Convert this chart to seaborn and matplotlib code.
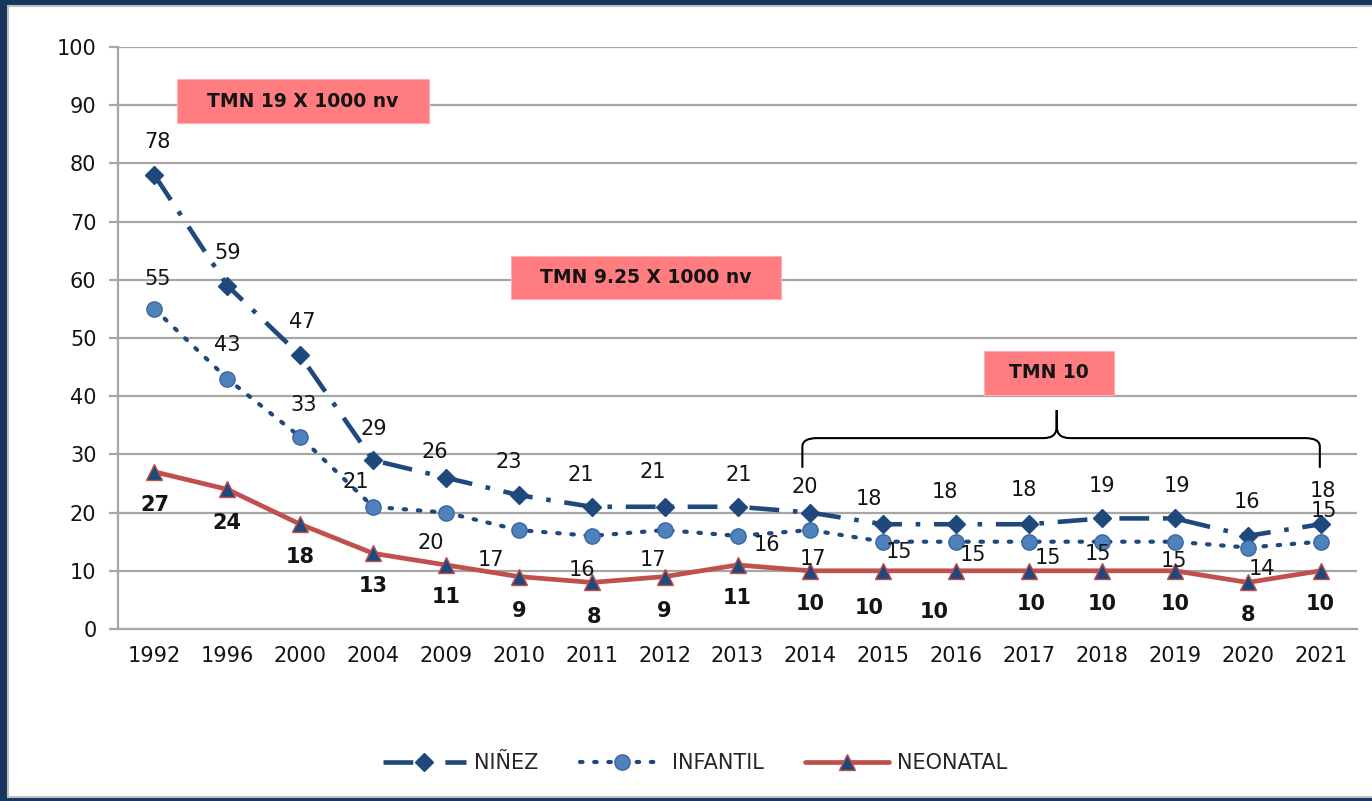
## Tasas de mortalidad: niñez, infantil y neonatal

import numpy as np
import pandas as pd
import seaborn as sns
import matplotlib.pyplot as plt
from matplotlib.path import Path
from matplotlib.patches import PathPatch, Rectangle

# datos
anios = ['1992', '1996', '2000', '2004', '2009', '2010', '2011', '2012', '2013',
         '2014', '2015', '2016', '2017', '2018', '2019', '2020', '2021']
ninez = [78, 59, 47, 29, 26, 23, 21, 21, 21, 20, 18, 18, 18, 19, 19, 16, 18]
infantil = [55, 43, 33, 21, 20, 17, 16, 17, 16, 17, 15, 15, 15, 15, 15, 14, 15]
neonatal = [27, 24, 18, 13, 11, 9, 8, 9, 11, 10, 10, 10, 10, 10, 10, 8, 10]

# desplazamiento de las etiquetas (pixeles)
off_ninez = [(3, 33), (0, 33), (2, 33), (1, 31), (-11, 26), (-10, 33), (-11, 32), (-12, 35),
             (1, 32), (-6, 26), (-14, 25), (-11, 32), (-5, 34), (0, 32), (2, 32), (-1, 34), (2, 33)]
off_infantil = [(3, 30), (0, 34), (3, 32), (-17, 25), (-15, -30), (-28, -30), (-10, -34), (-12, -30),
                (29, -9), (3, -29), (16, -10), (17, -13), (19, -16), (-4, -12), (-1, -19), (14, -21), (3, 31)]
off_neonatal = [(0, -33), (0, -34), (0, -33), (0, -33), (0, -32), (0, -34), (2, -35), (0, -34),
                (0, -33), (0, -33), (-14, -37), (-22, -41), (2, -33), (0, -33), (0, -33), (0, -33), (0, -33)]

azul = '#1F497D'
azul_claro = '#4F81BD'
rojo = '#C0504D'
gris = '#A6A6A6'
rosado = '#FF7C80'

df = pd.DataFrame({'pos': np.arange(len(anios)), 'anio': anios,
                   'ninez': ninez, 'infantil': infantil, 'neonatal': neonatal})

sns.set_style('white')
plt.rcParams['font.family'] = ['DejaVu Sans']

fig = plt.figure(figsize=(13.72, 8.01), dpi=100)
fig.patch.set_facecolor('#17375E')
fig.add_artist(Rectangle((8 / 1372, 4 / 801), 2.0, 791 / 801, transform=fig.transFigure,
                         facecolor='white', edgecolor='#BFBFBF', linewidth=1.5, zorder=-1))
ax = fig.add_axes([118 / 1372, 1 - 629 / 801, (1357 - 118) / 1372, (629 - 47) / 801])

sns.lineplot(data=df, x='pos', y='ninez', ax=ax, errorbar=None, color=azul, linewidth=3.3,
             linestyle=(0, (6.5, 3, 1, 3)), marker='D', markersize=9.5,
             markerfacecolor=azul, markeredgecolor=azul, markeredgewidth=1, label='NIÑEZ', zorder=4)
sns.lineplot(data=df, x='pos', y='infantil', ax=ax, errorbar=None, color=azul, linewidth=3,
             linestyle=(0, (0.6, 2.8)), dash_capstyle='round', marker='o', markersize=11,
             markerfacecolor=azul_claro, markeredgecolor='#3A67A0', markeredgewidth=1,
             label='INFANTIL', zorder=4)
sns.lineplot(data=df, x='pos', y='neonatal', ax=ax, errorbar=None, color=rojo, linewidth=3.4,
             marker='^', markersize=11, markerfacecolor=azul, markeredgecolor=rojo,
             markeredgewidth=1, label='NEONATAL', zorder=4)

# etiquetas de datos
for col, offs, peso in [('ninez', off_ninez, 'normal'), ('infantil', off_infantil, 'normal'),
                        ('neonatal', off_neonatal, 'bold')]:
    for i, v in enumerate(df[col]):
        ax.annotate(str(v), (df['pos'][i], v), xytext=offs[i], textcoords='offset pixels',
                    ha='center', va='center', fontsize=15, fontweight=peso, color='#141414', zorder=6)

# cajas de texto
cajas = [(0.315, 86.9, 3.45, 7.6, 'TMN 19 X 1000 nv'),
         (4.89, 56.7, 3.70, 7.4, 'TMN 9.25 X 1000 nv'),
         (11.38, 40.2, 1.78, 7.6, 'TMN 10')]
for x0, y0, w, h, txt in cajas:
    ax.add_patch(Rectangle((x0, y0), w, h, facecolor=rosado, edgecolor='#FFB0B0',
                           linewidth=0.8, zorder=5))
    ax.text(x0 + w / 2, y0 + h / 2, txt, ha='center', va='center', fontsize=13.5,
            fontweight='bold', color='#141414', zorder=6)

# llave sobre 2014-2021
xl, xr, xm = 8.89, 15.99, 12.38
yb, yh, yt = 27.7, 32.8, 37.6
verts = [(xl, yb), (xl, yh - 1.5), (xl, yh), (xl + 0.2, yh), (xm - 0.18, yh), (xm, yh), (xm, yh + 2.0), (xm, yt),
         (xm, yt), (xm, yh + 2.0), (xm, yh), (xm + 0.18, yh), (xr - 0.2, yh), (xr, yh), (xr, yh - 1.5), (xr, yb)]
codes = [Path.MOVETO, Path.LINETO, Path.CURVE3, Path.CURVE3, Path.LINETO, Path.CURVE3, Path.CURVE3, Path.LINETO,
         Path.MOVETO, Path.LINETO, Path.CURVE3, Path.CURVE3, Path.LINETO, Path.CURVE3, Path.CURVE3, Path.LINETO]
ax.add_patch(PathPatch(Path(verts, codes), facecolor='none', edgecolor='black', linewidth=1.5, zorder=5))

# ejes
ax.set_xlim(-0.5, len(anios) - 0.5)
ax.set_ylim(0, 100)
ax.set_yticks(range(0, 101, 10))
ax.set_xticks(df['pos'])
ax.set_xticklabels(anios)
ax.set_xticks(np.arange(-0.5, len(anios), 1), minor=True)
ax.set_xlabel('')
ax.set_ylabel('')
ax.grid(axis='y', color=gris, linewidth=1.6)
ax.set_axisbelow(True)
for s in ['top', 'right']:
    ax.spines[s].set_visible(False)
for s in ['left', 'bottom']:
    ax.spines[s].set_color(gris)
    ax.spines[s].set_linewidth(1.6)
ax.tick_params(axis='x', which='major', length=0, pad=12, labelsize=15, labelcolor='#141414')
ax.tick_params(axis='x', which='minor', length=6, width=1.6, color=gris, direction='out')
ax.tick_params(axis='y', length=6.5, width=1.6, color=gris, pad=9, labelsize=15,
               labelcolor='#141414', left=True)

ax.legend(loc='center', bbox_to_anchor=(695 / 1372, 1 - 763 / 801), bbox_transform=fig.transFigure,
          ncol=3, frameon=False, fontsize=15, handlelength=4, handletextpad=0.4,
          columnspacing=2.0, numpoints=1)

fig.savefig('out.png', dpi=100)
